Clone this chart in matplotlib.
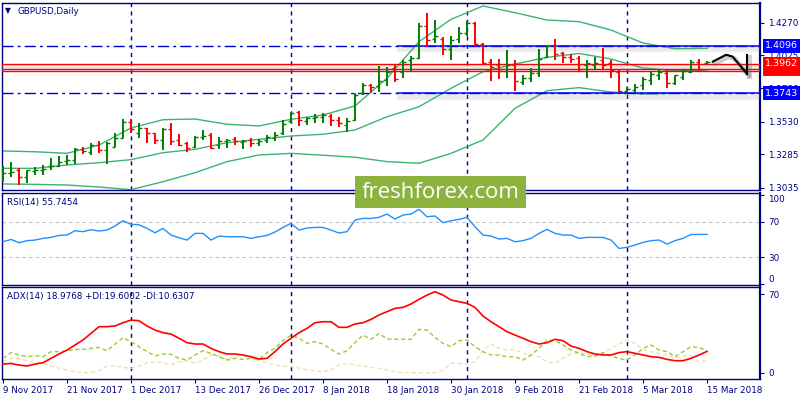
import matplotlib
matplotlib.use("Agg")
import matplotlib.pyplot as plt
import matplotlib.patheffects as pe
from matplotlib.patches import Rectangle
from matplotlib.transforms import blended_transform_factory
import numpy as np

# ---- data (bar index 0 = 9 Nov 2017) ----
date_labels = ['9 Nov 2017', '21 Nov 2017', '1 Dec 2017', '13 Dec 2017', '26 Dec 2017',
               '8 Jan 2018', '18 Jan 2018', '30 Jan 2018', '9 Feb 2018', '21 Feb 2018',
               '5 Mar 2018', '15 Mar 2018']
date_pos = [0, 8, 16, 24, 32, 40, 48, 56, 64, 72, 80, 88]
month_starts = [16, 36, 58, 78]

opens = [1.3113, 1.3143, 1.3168, 1.3113, 1.3163, 1.3168, 1.3197, 1.3197, 1.3237, 1.3242,
         1.3322, 1.3305, 1.3355, 1.3317, 1.3342, 1.3405, 1.3529, 1.3447, 1.3480, 1.3442,
         1.3392, 1.3472, 1.3392, 1.3367, 1.3337, 1.3412, 1.3429, 1.3355, 1.3387, 1.3397,
         1.3380, 1.3392, 1.3372, 1.3392, 1.3404, 1.3442, 1.3537, 1.3604, 1.3537, 1.3554,
         1.3567, 1.3572, 1.3542, 1.3504, 1.3542, 1.3741, 1.3804, 1.3796, 1.3841, 1.3928,
         1.3903, 1.3991, 1.4003, 1.4245, 1.4146, 1.4146, 1.4071, 1.4146, 1.4190, 1.4265,
         1.4111, 1.3978, 1.3953, 1.3911, 1.3953, 1.3829, 1.3854, 1.3891, 1.4011, 1.4103,
         1.4046, 1.4016, 1.4003, 1.3953, 1.3953, 1.3991, 1.3966, 1.3904, 1.3761, 1.3766,
         1.3804, 1.3841, 1.3879, 1.3896, 1.3816, 1.3866, 1.3904, 1.3973, 1.3966]
highs = [1.3197, 1.3230, 1.3180, 1.3168, 1.3188, 1.3205, 1.3255, 1.3272, 1.3280, 1.3330,
         1.3337, 1.3372, 1.3387, 1.3380, 1.3447, 1.3549, 1.3547, 1.3522, 1.3485, 1.3447,
         1.3480, 1.3517, 1.3435, 1.3380, 1.3425, 1.3467, 1.3442, 1.3412, 1.3397, 1.3412,
         1.3392, 1.3404, 1.3397, 1.3429, 1.3454, 1.3542, 1.3604, 1.3612, 1.3567, 1.3584,
         1.3597, 1.3584, 1.3567, 1.3554, 1.3741, 1.3816, 1.3809, 1.3946, 1.3941, 1.3953,
         1.3991, 1.4021, 1.4265, 1.4345, 1.4290, 1.4161, 1.4171, 1.4235, 1.4285, 1.4278,
         1.4116, 1.3996, 1.3996, 1.4066, 1.3991, 1.3879, 1.3928, 1.4071, 1.4103, 1.4146,
         1.4053, 1.4033, 1.4021, 1.3991, 1.4011, 1.4078, 1.3991, 1.3916, 1.3786, 1.3811,
         1.3866, 1.3904, 1.3921, 1.3916, 1.3879, 1.3921, 1.3994, 1.3996, 1.3980]
lows = [1.3080, 1.3113, 1.3055, 1.3073, 1.3130, 1.3130, 1.3168, 1.3193, 1.3205, 1.3212,
        1.3287, 1.3280, 1.3297, 1.3212, 1.3337, 1.3405, 1.3442, 1.3405, 1.3367, 1.3362,
        1.3317, 1.3355, 1.3347, 1.3305, 1.3332, 1.3392, 1.3322, 1.3322, 1.3330, 1.3355,
        1.3322, 1.3342, 1.3347, 1.3367, 1.3387, 1.3429, 1.3517, 1.3497, 1.3504, 1.3522,
        1.3522, 1.3497, 1.3492, 1.3454, 1.3537, 1.3729, 1.3741, 1.3754, 1.3796, 1.3829,
        1.3854, 1.3911, 1.4000, 1.4086, 1.4116, 1.4028, 1.3991, 1.4121, 1.4171, 1.4103,
        1.3953, 1.3836, 1.3846, 1.3854, 1.3761, 1.3804, 1.3829, 1.3866, 1.4008, 1.3991,
        1.3966, 1.3966, 1.3911, 1.3854, 1.3916, 1.3916, 1.3854, 1.3754, 1.3746, 1.3754,
        1.3766, 1.3804, 1.3841, 1.3779, 1.3804, 1.3841, 1.3895, 1.3911, 1.3962]
closes = [1.3148, 1.3153, 1.3113, 1.3168, 1.3168, 1.3173, 1.3200, 1.3230, 1.3242, 1.3322,
          1.3307, 1.3355, 1.3317, 1.3372, 1.3405, 1.3529, 1.3472, 1.3480, 1.3442, 1.3392,
          1.3472, 1.3387, 1.3355, 1.3330, 1.3417, 1.3422, 1.3330, 1.3387, 1.3392, 1.3385,
          1.3387, 1.3367, 1.3387, 1.3412, 1.3429, 1.3512, 1.3597, 1.3542, 1.3554, 1.3567,
          1.3579, 1.3542, 1.3522, 1.3537, 1.3729, 1.3804, 1.3791, 1.3836, 1.3903, 1.3846,
          1.3978, 1.4003, 1.4245, 1.4141, 1.4171, 1.4071, 1.4141, 1.4190, 1.4265, 1.4111,
          1.3966, 1.3941, 1.3911, 1.3953, 1.3836, 1.3854, 1.3896, 1.3996, 1.4096, 1.4036,
          1.4011, 1.3996, 1.3921, 1.3966, 1.3971, 1.3953, 1.3916, 1.3761, 1.3771, 1.3791,
          1.3846, 1.3886, 1.3904, 1.3816, 1.3879, 1.3911, 1.3978, 1.3921, 1.3975]

# Bollinger bands, read every 4th bar
bb_bars = [0, 4, 8, 12, 16, 20, 24, 28, 32, 36, 40, 44, 48, 52, 56, 60, 64, 68, 72, 76, 80, 84, 88]
bb_upper = [1.3310, 1.3304, 1.3292, 1.3354, 1.3482, 1.3544, 1.3549, 1.3510, 1.3497, 1.3547,
            1.3579, 1.3647, 1.3854, 1.4128, 1.4295, 1.4395, 1.4345, 1.4290, 1.4278, 1.4215,
            1.4118, 1.4075, 1.4078]
bb_mid = [1.3180, 1.3180, 1.3205, 1.3222, 1.3245, 1.3297, 1.3322, 1.3372, 1.3397, 1.3422,
          1.3435, 1.3467, 1.3566, 1.3641, 1.3779, 1.3903, 1.3961, 1.4011, 1.4040, 1.3998,
          1.3931, 1.3911, 1.3916]
bb_lower = [1.3063, 1.3060, 1.3055, 1.3040, 1.3020, 1.3080, 1.3147, 1.3230, 1.3280, 1.3292,
            1.3278, 1.3263, 1.3230, 1.3218, 1.3292, 1.3392, 1.3629, 1.3761, 1.3784, 1.3751,
            1.3736, 1.3742, 1.3746]

rsi = [47.5, 50.1, 46.4, 48.7, 49.4, 51.3, 52.4, 54.6, 55.0, 59.9,
       58.8, 61.0, 59.5, 60.6, 65.1, 71.1, 67.0, 66.6, 62.5, 57.6,
       62.5, 55.0, 52.0, 49.4, 56.9, 56.9, 49.4, 53.9, 53.1, 53.1,
       53.1, 51.3, 53.1, 54.6, 58.4, 63.6, 68.1, 60.6, 62.9, 63.6,
       63.6, 60.6, 57.3, 58.8, 71.9, 73.7, 73.7, 74.9, 78.6, 73.0,
       77.5, 78.6, 83.9, 75.6, 76.4, 68.9, 71.1, 72.6, 74.9, 64.4,
       55.0, 53.9, 50.5, 51.3, 47.5, 48.7, 51.3, 56.9, 61.4, 56.9,
       55.0, 55.0, 51.3, 52.4, 52.4, 52.4, 49.4, 40.0, 41.2, 43.8,
       46.8, 48.7, 49.4, 44.9, 48.7, 51.3, 55.7, 55.7, 55.7454]

adx = [7.7, 8.3, 6.8, 6.0, 7.7, 8.9, 12.8, 16.7, 20.2, 24.7,
       29.2, 35.1, 41.1, 41.1, 41.7, 44.6, 47.0, 46.4, 41.7, 38.1,
       35.7, 34.5, 30.7, 26.8, 25.6, 25.6, 21.7, 18.8, 16.7, 16.7,
       15.8, 14.3, 12.2, 12.8, 18.8, 25.6, 30.7, 35.7, 39.6, 44.6,
       45.5, 45.5, 40.5, 40.5, 43.5, 44.6, 47.6, 51.5, 54.5, 57.4,
       58.3, 61.3, 65.5, 69.3, 72.3, 69.3, 64.9, 63.4, 61.9, 58.3,
       50.6, 45.5, 41.1, 36.6, 33.6, 30.7, 27.7, 25.6, 26.8, 29.8,
       28.6, 23.8, 21.7, 18.8, 16.7, 15.8, 15.8, 17.9, 18.8, 17.3,
       15.8, 14.3, 13.7, 11.9, 10.7, 10.7, 12.8, 15.8, 18.9768]
plus_di = [12.8, 17.9, 15.8, 14.3, 15.2, 14.3, 18.8, 18.8, 19.3, 20.8,
           20.8, 21.7, 22.6, 19.6, 25.6, 31.3, 27.7, 23.2, 18.8, 14.9,
           16.7, 16.4, 12.8, 11.3, 15.8, 19.6, 17.3, 14.3, 11.3, 12.8,
           11.9, 12.8, 11.9, 17.9, 21.7, 28.6, 33.6, 30.7, 26.2, 27.7,
           25.6, 20.8, 16.7, 19.6, 26.8, 33.6, 29.8, 35.1, 30.1, 29.8,
           29.8, 29.8, 38.7, 38.1, 31.5, 26.2, 23.2, 28.6, 29.2, 23.2,
           18.8, 15.8, 15.8, 14.3, 14.3, 11.3, 15.8, 21.7, 29.2, 28.6,
           24.7, 20.2, 17.3, 14.3, 14.9, 17.9, 14.9, 12.8, 11.3, 15.8,
           21.7, 24.7, 20.2, 18.8, 14.3, 18.8, 23.2, 22.6, 19.6002]
minus_di = [9.8, 12.8, 12.8, 10.7, 9.8, 8.3, 6.0, 3.9, 2.4, 0.9,
            0.0, 0.0, 1.8, 6.0, 6.0, 4.8, 3.9, 6.0, 8.9, 9.8,
            8.9, 6.8, 9.8, 10.7, 8.3, 11.3, 15.8, 14.9, 11.9, 14.3,
            15.8, 12.8, 10.7, 8.9, 6.8, 6.0, 5.4, 3.9, 2.4, 1.8,
            0.9, 2.4, 6.8, 8.3, 6.8, 6.0, 4.8, 3.9, 2.4, 0.9,
            0.0, 0.0, 0.0, 0.0, 0.0, 2.4, 8.3, 8.3, 7.7, 9.8,
            20.2, 25.6, 21.7, 20.2, 20.8, 17.3, 15.8, 14.3, 9.8, 8.3,
            12.8, 16.7, 17.9, 16.7, 14.3, 17.3, 21.7, 25.6, 29.2, 26.2,
            20.8, 18.8, 17.3, 15.8, 12.8, 14.9, 14.9, 9.8, 10.6307]

blue_levels = [1.4096, 1.3743]
red_levels = [1.3962, 1.3925, 1.3910]
price_ticks = [1.4270, 1.4025, 1.3780, 1.3530, 1.3285, 1.3035]

# ---- layout (pixel based, 800x400) ----
W, H = 800, 400
navy = '#000080'
fig = plt.figure(figsize=(W / 100, H / 100), dpi=100)
fig.patch.set_facecolor('white')


def px_axes(x0, y0, x1, y1):
    return fig.add_axes([x0 / W, 1 - y1 / H, (x1 - x0) / W, (y1 - y0) / H])


ax = px_axes(2, 3, 760, 190)
ax_rsi = px_axes(2, 192.7, 760, 285)
ax_adx = px_axes(2, 287.3, 760, 379.3)
xlim = (-0.125, -0.125 + 758 / 8)

for a in (ax, ax_rsi, ax_adx):
    a.set_xlim(*xlim)
    for s in a.spines.values():
        s.set_color(navy)
        s.set_linewidth(1.0)
    a.spines['right'].set_linewidth(1.6)
    a.yaxis.tick_right()
    a.tick_params(axis='y', direction='out', length=3, pad=3, labelsize=6.3,
                  colors=navy, labelcolor=navy)
    for m in month_starts:
        a.axvline(m, color=navy, lw=1.0, ls=(0, (3, 3)), zorder=1)

ax.set_xticks([])
ax_rsi.set_xticks([])

# ---- main price panel ----
idx = np.arange(len(opens))
o = np.array(opens); h = np.array(highs); l = np.array(lows); c = np.array(closes)
cols = np.where(c >= o, '#008000', '#FF0000')

ax.set_ylim(1.4270 - (190 - 22.7) / 1336, 1.4270 + (22.7 - 3) / 1336)
ax.set_yticks(price_ticks)
ax.set_yticklabels(['%.4f' % t for t in price_ticks])

band_col = '#3CB371'
ax.plot(bb_bars, bb_upper, color=band_col, lw=1.0, zorder=2)
ax.plot(bb_bars, bb_mid, color=band_col, lw=1.0, zorder=2)
ax.plot(bb_bars, bb_lower, color=band_col, lw=1.0, zorder=2)

shadow = [pe.SimpleLineShadow(offset=(0, -2.5), shadow_color='#909090', alpha=0.18, linewidth=4),
          pe.Normal()]
for lv in blue_levels:
    ax.axhline(lv, color='#0000CC', lw=1.0, ls=(0, (8, 3, 2, 3)), zorder=3)
    ax.hlines(lv, 49.3, xlim[1], color='#0000FF', lw=1.1, zorder=3, path_effects=shadow)
ax.axhline(red_levels[0], color='#FF0000', lw=1.0, zorder=3, path_effects=shadow)
for lv in red_levels[1:]:
    ax.axhline(lv, color='#FF0000', lw=1.0, zorder=3)

ax.vlines(idx, l, h, colors=cols, lw=1.4, zorder=4)
ax.hlines(o, idx - 0.42, idx, colors=cols, lw=1.0, zorder=4)
ax.hlines(c, idx, idx + 0.42, colors=cols, lw=1.0, zorder=4)

# hand-drawn arrow
arrow_line = ([88.7, 90.4, 91.2, 92.2, 93.0], [1.3978, 1.4030, 1.4016, 1.3945, 1.3888])
arrow_head = ([93.05, 93.05], [1.4030, 1.3886])
ashadow = [pe.SimpleLineShadow(offset=(1.5, -1.5), shadow_color='#606060', alpha=0.3, linewidth=3.5),
           pe.Normal()]
ax.plot(*arrow_line, color='black', lw=1.5, zorder=6, path_effects=ashadow,
        solid_capstyle='round')
ax.plot(*arrow_head, color='black', lw=1.5, zorder=6, path_effects=ashadow)

# price labels in boxes
tr = blended_transform_factory(ax.transAxes, ax.transData)
box_labels = [(1.4096, '#0000FF'), (1.3743, '#0000FF'), (1.3925, '#FF0000'), (1.3962, '#FF0000')]
for lv, fc in box_labels:
    ax.text(1.0 + 5 / 758, lv, '%.4f' % lv, transform=tr, ha='left', va='center',
            fontsize=6.8, color='white', zorder=10,
            bbox=dict(boxstyle='square,pad=0.25', fc=fc, ec='none'))

fig.text(8 / W, 1 - 11 / H, '\u25bc', fontsize=5.5, color=navy, va='center', ha='center')
fig.text(18 / W, 1 - 11 / H, 'GBPUSD,Daily', fontsize=6.3, color=navy, va='center')

# ---- RSI ----
ax_rsi.set_ylim(-1.1, 102.6)
ax_rsi.set_yticks([0, 30, 70, 100])
rsi_lbls = ax_rsi.get_yticklabels()
rsi_lbls[0].set_va('bottom')
rsi_lbls[-1].set_va('top')
ax_rsi.axhline(70, color='#C0C0C0', lw=0.8, ls=(0, (3, 3)))
ax_rsi.axhline(30, color='#C0C0C0', lw=0.8, ls=(0, (3, 3)))
ax_rsi.plot(idx, rsi, color='#1E90FF', lw=1.0, zorder=3)
fig.text(7 / W, 1 - 202 / H, 'RSI(14) 55.7454', fontsize=6.3, color=navy, va='center')

# ---- ADX ----
ax_adx.set_ylim(-5.9, 76.25)
ax_adx.set_yticks([0, 70])
ax_adx.plot(idx, minus_di, color='#F5DEB3', lw=1.0, ls=(0, (3, 2)), zorder=2)
ax_adx.plot(idx, plus_di, color='#9ACD32', lw=1.0, ls=(0, (3, 2)), zorder=3)
ax_adx.plot(idx, adx, color='#FF0000', lw=1.2, zorder=4)
fig.text(7 / W, 1 - 297 / H, 'ADX(14) 18.9768 +DI:19.6002 -DI:10.6307', fontsize=6.3,
         color=navy, va='center')

ax_adx.set_xticks(date_pos)
ax_adx.set_xticklabels(date_labels, ha='left')
ax_adx.tick_params(axis='x', direction='out', length=3, pad=2, labelsize=6.3,
                   colors=navy, labelcolor=navy)

# ---- watermark ----
fig.add_artist(Rectangle((355 / W, 1 - 207.7 / H), 171 / W, 31.7 / H,
                         transform=fig.transFigure, fc='#8DB33F', ec='none', zorder=20))
fig.text(440.5 / W, 1 - 192 / H, 'freshforex.com', fontsize=16, family='Open Sans',
         color='white', ha='center', va='center', zorder=21)

fig.savefig('out.png', dpi=100)
